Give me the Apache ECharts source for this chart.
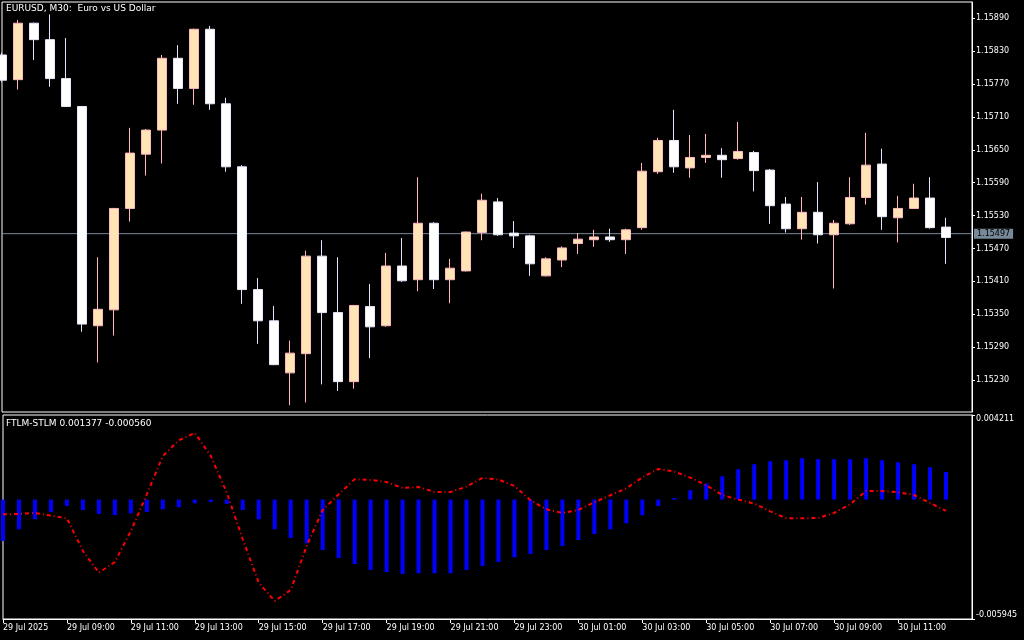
<!DOCTYPE html>
<html>
<head>
<meta charset="utf-8">
<script src="https://cdn.jsdelivr.net/npm/echarts@6/dist/echarts.min.js"></script>
<style>
html,body{margin:0;padding:0;background:#000;}
#c{width:1024px;height:640px;}
</style>
</head>
<body>
<div id="c"></div>
<script>
// ---- Data (EURUSD M30, 29 Jul 07:00 .. 30 Jul 12:30) ----
const opens = [1.15823,1.15778,1.15881,1.15851,1.15780,1.15729,1.15329,1.15358,1.15543,1.15642,
1.15686,1.15817,1.15762,1.15870,1.15734,1.15619,1.15395,1.15338,1.15243,1.15278,
1.15456,1.15353,1.15227,1.15364,1.15329,1.15438,1.15413,1.15516,1.15413,1.15429,
1.15499,1.15555,1.15498,1.15493,1.15420,1.15449,1.15479,1.15486,1.15491,1.15486,
1.15508,1.15610,1.15667,1.15617,1.15636,1.15640,1.15634,1.15645,1.15613,1.15551,
1.15506,1.15536,1.15495,1.15515,1.15563,1.15624,1.15526,1.15543,1.15562,1.15509];
const closes = [1.15777,1.15881,1.15851,1.15780,1.15729,1.15332,1.15359,1.15543,1.15644,1.15686,
1.15817,1.15762,1.15870,1.15734,1.15619,1.15395,1.15338,1.15258,1.15279,1.15456,
1.15353,1.15227,1.15366,1.15327,1.15438,1.15411,1.15516,1.15413,1.15434,1.15500,
1.15558,1.15495,1.15493,1.15442,1.15451,1.15471,1.15487,1.15491,1.15486,1.15504,
1.15611,1.15667,1.15619,1.15636,1.15640,1.15632,1.15647,1.15612,1.15548,1.15506,
1.15536,1.15495,1.15516,1.15563,1.15622,1.15528,1.15543,1.15562,1.15508,1.15490];
const lows = [1.15774,1.15760,1.15814,1.15765,1.15728,1.15318,1.15262,1.15311,1.15519,1.15603,
1.15625,1.15734,1.15732,1.15723,1.15610,1.15369,1.15296,1.15257,1.15184,1.15189,
1.15222,1.15210,1.15214,1.15270,1.15327,1.15409,1.15392,1.15396,1.15370,1.15428,
1.15485,1.15493,1.15471,1.15420,1.15419,1.15436,1.15460,1.15473,1.15482,1.15460,
1.15504,1.15606,1.15608,1.15599,1.15626,1.15599,1.15632,1.15574,1.15515,1.15499,
1.15486,1.15479,1.15397,1.15513,1.15550,1.15504,1.15481,1.15542,1.15506,1.15442];
const highs = [1.15827,1.15887,1.15882,1.15897,1.15854,1.15730,1.15454,1.15544,1.15690,1.15688,
1.15823,1.15841,1.15871,1.15876,1.15745,1.15622,1.15416,1.15365,1.15302,1.15466,
1.15485,1.15454,1.15367,1.15405,1.15462,1.15489,1.15600,1.15518,1.15451,1.15501,
1.15570,1.15562,1.15520,1.15495,1.15454,1.15474,1.15498,1.15504,1.15506,1.15506,
1.15626,1.15672,1.15723,1.15677,1.15679,1.15653,1.15701,1.15648,1.15615,1.15564,
1.15564,1.15591,1.15522,1.15600,1.15681,1.15652,1.15566,1.15588,1.15600,1.15526];

// FTLM-STLM histogram and signal line
const ftlmStlmHist = [-0.002061,-0.001479,-0.000981,-0.000617,-0.000317,-0.000518,-0.000717,-0.000767,-0.000682,-0.000617,
-0.000483,-0.000383,-0.000184,-0.000119,-0.000219,-0.000518,-0.000981,-0.001479,-0.001912,-0.002176,
-0.002509,-0.002908,-0.003206,-0.003505,-0.003605,-0.003704,-0.003669,-0.003669,-0.003669,-0.003505,
-0.003306,-0.003107,-0.002873,-0.002709,-0.002509,-0.002310,-0.002012,-0.001713,-0.001479,-0.001180,
-0.000782,-0.000317,0.000080,0.000463,0.000797,0.001160,0.001509,0.001758,0.001907,0.001957,
0.002056,0.002007,0.002007,0.002007,0.002056,0.001957,0.001857,0.001758,0.001608,0.001377];
const ftlmStlmLine = [-0.000732,-0.000717,-0.000667,-0.000797,-0.000931,-0.002559,-0.003635,-0.003107,-0.001563,0.000264,
0.002171,0.002953,0.003316,0.002171,0.000349,-0.001977,-0.004133,-0.005049,-0.004501,-0.002310,
-0.000520,0.000264,0.001011,0.000976,0.000876,0.000578,0.000627,0.000378,0.000378,0.000647,
0.001076,0.000996,0.000677,-0.000035,-0.000483,-0.000667,-0.000518,-0.000134,0.000214,0.000563,
0.001110,0.001524,0.001394,0.001095,0.000712,0.000229,0.000000,-0.000199,-0.000583,-0.000931,
-0.000931,-0.000916,-0.000667,-0.000234,0.000428,0.000428,0.000363,0.000229,-0.000169,-0.000560];

const timeTickIndex = [0,4,8,12,16,20,24,28,32,36,40,44,48,52,56];
const timeTickLabels = ['29 Jul 2025','29 Jul 09:00','29 Jul 11:00','29 Jul 13:00','29 Jul 15:00',
'29 Jul 17:00','29 Jul 19:00','29 Jul 21:00','29 Jul 23:00','30 Jul 01:00','30 Jul 03:00',
'30 Jul 05:00','30 Jul 07:00','30 Jul 09:00','30 Jul 11:00'];
const priceTicks = [1.15230,1.15290,1.15350,1.15410,1.15470,1.15530,1.15590,1.15650,1.15710,1.15770,1.15830,1.15890];
const bidPrice = 1.15497;
const indMax = 0.004211;
const indMin = -0.005945;

// ---- Build chart ----
const FONT = 'DejaVu Sans';
const X_MAX = 60.625;
const candleData = opens.map((o, i) => [i, o, closes[i], lows[i], highs[i]]);
const histData = ftlmStlmHist.map((v, i) => [i, v]);
const lineData = ftlmStlmLine.map((v, i) => [i, v]);
const bidData = [[0, bidPrice], [X_MAX, bidPrice]];

const chart = echarts.init(document.getElementById('c'), null, {renderer: 'canvas'});
chart.setOption({
  backgroundColor: '#000',
  animation: false,
  title: [
    {text: 'EURUSD, M30:  Euro vs US Dollar', left: 6, top: 4, padding: 0,
     textStyle: {color: '#fff', fontSize: 9, fontWeight: 'normal', fontFamily: FONT}},
    {text: 'FTLM-STLM 0.001377 -0.000560', left: 6, top: 419, padding: 0,
     textStyle: {color: '#fff', fontSize: 9, fontWeight: 'normal', fontFamily: FONT}}
  ],
  grid: [
    {left: 2, right: 52, top: 2, height: 410, show: true, borderColor: '#fff', borderWidth: 1, backgroundColor: 'transparent'},
    {left: 2, right: 52, top: 415, height: 204, show: true, borderColor: '#fff', borderWidth: 1, backgroundColor: 'transparent'}
  ],
  xAxis: [
    {type: 'value', gridIndex: 0, min: 0, max: X_MAX, show: false},
    {type: 'value', gridIndex: 1, min: 0, max: X_MAX,
     axisLine: {show: true, onZero: false, lineStyle: {color: '#fff'}},
     axisTick: {show: true, length: 4, customValues: timeTickIndex, lineStyle: {color: '#fff'}},
     axisLabel: {customValues: timeTickIndex, color: '#fff', fontSize: 8, fontFamily: FONT, align: 'left', margin: 5,
       formatter: v => { const k = timeTickIndex.indexOf(Math.round(v)); return k >= 0 ? timeTickLabels[k] : ''; }},
     splitLine: {show: false}}
  ],
  yAxis: [
    {type: 'value', gridIndex: 0, position: 'right', min: 1.151716, max: 1.159197, scale: true,
     axisLine: {show: true, onZero: false, lineStyle: {color: '#fff'}},
     axisTick: {show: true, length: 3, customValues: priceTicks, lineStyle: {color: '#fff'}},
     axisLabel: {customValues: priceTicks, color: '#fff', fontSize: 8, fontFamily: FONT, margin: 4,
       formatter: v => v.toFixed(5)},
     splitLine: {show: false}},
    {type: 'value', gridIndex: 1, position: 'right', min: indMin, max: indMax,
     axisLine: {show: true, onZero: false, lineStyle: {color: '#fff'}},
     axisTick: {show: true, length: 3, customValues: [indMin, indMax], lineStyle: {color: '#fff'}},
     axisLabel: {customValues: [indMin, indMax], color: '#fff', fontSize: 8, fontFamily: FONT, margin: 4,
       verticalAlignMinLabel: 'bottom', verticalAlignMaxLabel: 'top',
       formatter: v => v.toFixed(6)},
     splitLine: {show: false}}
  ],
  series: [
    {type: 'line', xAxisIndex: 0, yAxisIndex: 0, data: bidData, symbol: 'none', silent: true, z: 1,
     lineStyle: {color: '#778899', width: 1, type: 'solid'},
     endLabel: {show: true, distance: 2, formatter: bidPrice.toFixed(5), backgroundColor: '#778899',
       color: '#000', fontSize: 8, fontFamily: FONT, padding: [1, 3, 1, 3]}},
    {type: 'candlestick', xAxisIndex: 0, yAxisIndex: 0, data: candleData, z: 2,
     encode: {x: 0, y: [1, 2, 3, 4]}, barWidth: 9, clip: true,
     itemStyle: {color: '#FFE4B5', color0: '#FFFFFF', borderColor: '#FFB6C1', borderColor0: '#E6E6FA', borderWidth: 1}},
    {type: 'bar', xAxisIndex: 1, yAxisIndex: 1, data: histData, barWidth: 4, clip: true,
     itemStyle: {color: '#0000FF'}},
    {type: 'line', xAxisIndex: 1, yAxisIndex: 1, data: lineData, symbol: 'none', clip: true,
     lineStyle: {color: '#FF0000', width: 2, type: [4, 3, 1, 3]}}
  ]
});
</script>
</body>
</html>
